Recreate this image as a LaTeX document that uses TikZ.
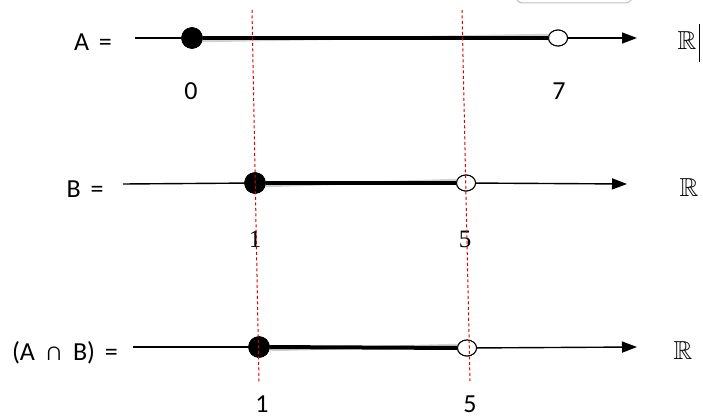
\documentclass[tikz,border=0pt]{standalone}
\usepackage{amssymb}
\usepackage{fontspec}
\setmainfont{Carlito}
\newfontfamily\serifdig{Liberation Serif}
\usetikzlibrary{arrows.meta,shapes.geometric}
\newcommand{\wsp}{\hspace{0.38em}}
\tikzset{
  fdot/.style={circle,fill=black,draw=black,inner sep=0pt,minimum width=21pt,minimum height=20pt},
  odot/.style={ellipse,fill=white,draw=black,line width=1pt,inner sep=0pt,minimum width=19pt,minimum height=16pt},
  thinline/.style={line width=1.4pt,black},
  thickline/.style={line width=4pt,black},
  shadow/.style={line width=2.5pt,black!18},
  arrowline/.style={line width=1.4pt,black,-{Triangle[length=15pt,width=11pt]}},
  guide/.style={red!85!black,line width=1pt,dash pattern=on 3pt off 2.5pt},
  lbl/.style={font=\fontsize{26}{28}\selectfont,inner sep=0pt},
  slbl/.style={font=\serifdig\fontsize{25}{27}\selectfont,inner sep=0pt},
  rlbl/.style={font=\fontsize{26}{28}\selectfont,inner sep=0pt}
}
\begin{document}
\begin{tikzpicture}[x=1pt,y=-1pt]
\useasboundingbox (0,0) rectangle (703,417);
\begin{scope}
\clip (0,0) rectangle (703,417);
\draw[black!25,line width=1pt,rounded corners=8pt] (515,-20) rectangle (633,3);
\end{scope}
% guides
\coordinate (g1t) at (252,10); \coordinate (g1b) at (259,382);
\coordinate (g2t) at (462,10); \coordinate (g2b) at (470,381);
% Row A
\node[lbl] (Alab) at (93,42) {A\wsp=};
\coordinate (As) at (135,38);
\coordinate (Ae) at (637,38);
\node[fdot] (A0) at (192,38) {};
\node[odot] (A7) at (558,38) {};
\draw[shadow] (A0.east) ++(0,3) -- ([yshift=3pt]A7.west);
\draw[thinline] (As) -- (A0);
\draw[thickline] (A0) -- (A7);
\draw[arrowline] (A7) -- (Ae);
\node[fdot] at (A0) {};
\node[odot] at (A7) {};
\node[rlbl] (AR) at (687,41) {$\mathbb{R}$};
\draw[line width=1pt] (699,24) -- (699,62);
\node[lbl] (A0l) at (191,91) {0};
\node[lbl] (A7l) at (559,91) {7};
% Row B
\node[lbl] (Blab) at (85,189) {B\wsp=};
\coordinate (Bs) at (123,184);
\coordinate (Be) at (627,184);
\node[fdot] (B1) at (255,183) {};
\node[odot] (B5) at (466,183) {};
\draw[shadow] (B1.east) ++(0,3) -- ([yshift=3pt]B5.west);
\draw[thinline] (Bs) -- (B1);
\draw[thickline] (B1) -- (B5);
\draw[arrowline] (B5) -- (Be);
\node[fdot] at (B1) {};
\node[odot] at (B5) {};
\node[rlbl] (BR) at (689,188) {$\mathbb{R}$};
\node[slbl] (B1l) at (255,239) {1};
\node[slbl] (B5l) at (465,239) {5};
% Row C
\node[lbl] (Clab) at (65,353) {(A\wsp∩\wsp B)\wsp=};
\coordinate (Cs) at (133,347);
\coordinate (Ce) at (637,347);
\node[fdot] (C1) at (259,347) {};
\node[odot] (C5) at (467,348) {};
\draw[shadow] (C1.east) ++(0,3) -- ([yshift=3pt]C5.west);
\draw[thinline] (Cs) -- (C1);
\draw[thickline] (C1) -- (C5);
\draw[arrowline] (C5) -- (Ce);
\node[fdot] at (C1) {};
\node[odot] at (C5) {};
\node[rlbl] (CR) at (683,351) {$\mathbb{R}$};
\node[lbl] (C1l) at (262,404) {1};
\node[lbl] (C5l) at (470,404) {5};
% guide lines on top
\draw[guide] (g1t) -- (g1b);
\draw[guide] (g2t) -- (g2b);
\end{tikzpicture}
\end{document}
